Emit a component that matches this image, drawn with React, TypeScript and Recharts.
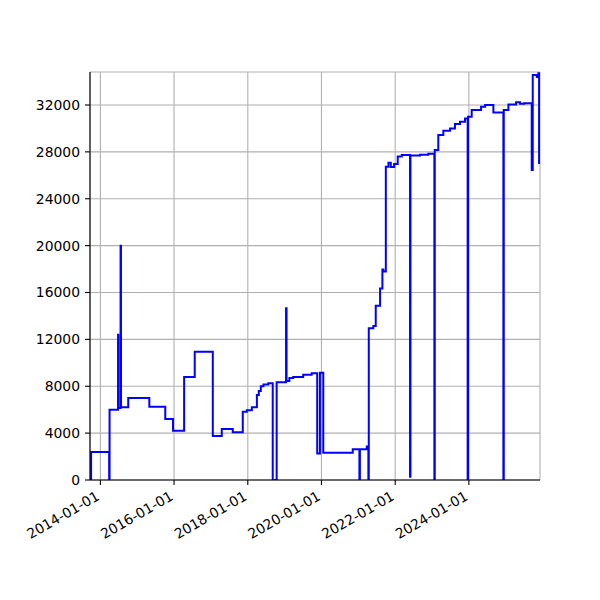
import React from "react";
import { CartesianGrid, Line, LineChart, XAxis, YAxis } from "recharts";

// change dates (value holds from this date until the next one)
const dates: string[] = [
  "2013-09-28", "2013-10-01",
  "2014-03-29", "2014-04-02", "2014-06-25", "2014-06-28", "2014-07-20", "2014-07-24", "2014-10-04",
  "2015-05-01", "2015-10-06", "2015-12-22",
  "2016-04-10", "2016-07-24",
  "2017-01-19", "2017-04-18", "2017-08-05", "2017-11-12", "2017-12-22",
  "2018-02-10", "2018-04-01", "2018-04-20", "2018-05-10", "2018-06-05", "2018-07-23", "2018-09-05", "2018-10-14",
  "2019-01-15", "2019-01-20", "2019-02-17", "2019-03-27", "2019-07-04", "2019-09-26", "2019-11-20", "2019-12-17",
  "2020-01-19", "2020-11-06",
  "2021-01-11", "2021-01-16", "2021-03-25", "2021-04-10", "2021-04-14", "2021-05-29", "2021-06-22", "2021-08-04",
  "2021-08-27", "2021-09-05", "2021-09-30", "2021-10-26", "2021-11-18", "2021-12-21",
  "2022-01-26", "2022-03-07", "2022-05-28", "2022-06-01", "2022-09-04", "2022-11-25",
  "2023-01-24", "2023-01-28", "2023-03-04", "2023-04-23", "2023-06-28", "2023-08-16", "2023-10-05", "2023-11-24",
  "2023-12-20", "2023-12-24",
  "2024-01-29", "2024-05-01", "2024-06-10", "2024-08-31", "2024-12-08", "2024-12-12",
  "2025-01-27", "2025-04-13", "2025-05-22", "2025-07-02", "2025-09-15", "2025-09-25", "2025-11-04", "2025-11-20",
  "2025-11-27",
];

const values: number[] = [
  0, 2400,
  0, 6000, 12400, 6150, 20000, 6200, 7000,
  6250, 5200, 4200,
  8800, 10950,
  3750, 4350, 4080, 5830, 5960,
  6210, 7250, 7600, 8000, 8160, 8250, 0, 8340,
  14650, 8450, 8700, 8800, 8990, 9100, 2270, 9150,
  2330, 2620,
  0, 2620, 2850, 0, 12940, 13150, 14880, 16350,
  17970, 17800, 26740, 27080, 26700, 26960,
  27600, 27740, 280, 27700, 27760, 27830,
  0, 28160, 29440, 29800, 30000, 30370, 30570, 30850,
  0, 31000,
  31570, 31850, 32000, 31370, 0, 31570,
  32050, 32230, 32100, 32150, 26450, 34560, 34400, 34700,
  26960,
];

const xTickDates: string[] = [
  "2014-01-01", "2016-01-01", "2018-01-01", "2020-01-01", "2022-01-01", "2024-01-01",
];
const yTicks: number[] = [0, 4000, 8000, 12000, 16000, 20000, 24000, 28000, 32000];

const xDomain: [number, number] = [Date.parse("2013-09-20"), Date.parse("2025-12-06")];
const yDomain: [number, number] = [0, 34816];

const data = dates.map((d, i) => ({ t: Date.parse(d), v: values[i] }));
const xTicks = xTickDates.map((d) => Date.parse(d));

const FONT = "DejaVu Sans, sans-serif";

function fmtDate(ms: number): string {
  return new Date(ms).toISOString().slice(0, 10);
}

function DateTick(props: any) {
  const { x, y, payload } = props;
  return (
    <g transform={`translate(${x},${y + 9}) rotate(-30)`}>
      <text x={0} y={0} textAnchor="end" fontSize={13.9} fontFamily={FONT} fill="#000">
        {fmtDate(payload.value)}
      </text>
    </g>
  );
}

export default function App() {
  return (
    <div style={{ position: "absolute", left: 0, top: 0, width: 600, height: 600, background: "#fff" }}>
      <LineChart width={600} height={600} data={data} margin={{ top: 72, right: 60, left: 30, bottom: 40 }}>
        <CartesianGrid stroke="#b0b0b0" strokeWidth={1.1} />
        <XAxis
          dataKey="t"
          type="number"
          domain={xDomain}
          ticks={xTicks}
          interval={0}
          allowDataOverflow
          height={80}
          tickSize={5}
          tickMargin={5}
          tick={<DateTick />}
          axisLine={{ stroke: "#000", strokeWidth: 1.1 }}
          tickLine={{ stroke: "#000", strokeWidth: 1.1 }}
        />
        <YAxis
          type="number"
          domain={yDomain}
          ticks={yTicks}
          interval={0}
          allowDataOverflow
          width={60}
          tickSize={5}
          tickMargin={5}
          tick={{ fontSize: 13.9, fill: "#000", fontFamily: FONT }}
          axisLine={{ stroke: "#000", strokeWidth: 1.1 }}
          tickLine={{ stroke: "#000", strokeWidth: 1.1 }}
        />
        <XAxis
          xAxisId="top"
          orientation="top"
          dataKey="t"
          type="number"
          domain={xDomain}
          allowDataOverflow
          height={0}
          tick={false}
          tickLine={false}
          axisLine={{ stroke: "#000", strokeWidth: 1.1 }}
        />
        <YAxis
          yAxisId="right"
          orientation="right"
          type="number"
          domain={yDomain}
          allowDataOverflow
          width={0}
          tick={false}
          tickLine={false}
          axisLine={{ stroke: "#000", strokeWidth: 1.1 }}
        />
        <Line
          type="stepAfter"
          dataKey="v"
          stroke="#0000ff"
          strokeWidth={2}
          dot={false}
          isAnimationActive={false}
        />
      </LineChart>
    </div>
  );
}
